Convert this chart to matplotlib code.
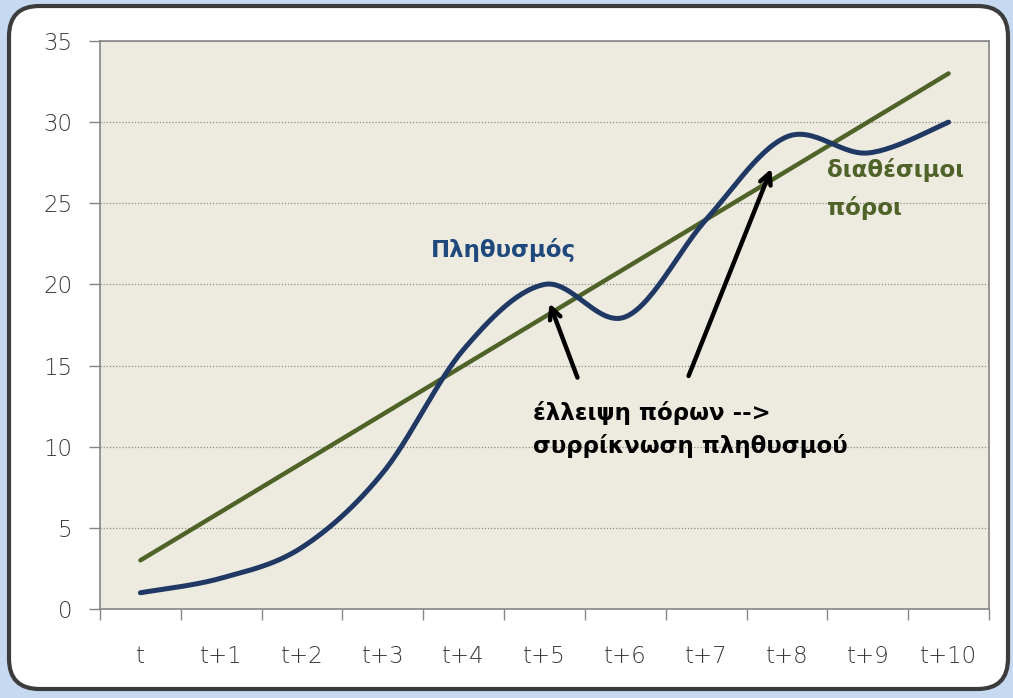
import numpy as np
import matplotlib
matplotlib.use('Agg')
import matplotlib.pyplot as plt
from matplotlib.patches import FancyBboxPatch

#-------------------------------------------------------------------------
# data
labels = ['t', 't+1', 't+2', 't+3', 't+4', 't+5', 't+6', 't+7', 't+8', 't+9', 't+10']
population = [1.0, 1.9, 3.8, 8.4, 16.0, 20.0, 18.0, 24.0, 29.1, 28.1, 30.0]
resources = [3, 6, 9, 12, 15, 18, 21, 24, 27, 30, 33]
#-------------------------------------------------------------------------

plt.rcParams['font.family'] = ['DejaVu Sans']


def excel_smooth(x, y, n=30):
    # bezier smoothing like the spreadsheet "smoothed line" option
    x = np.asarray(x, float)
    y = np.asarray(y, float)
    px = np.concatenate([[x[0]], x, [x[-1]]])
    py = np.concatenate([[y[0]], y, [y[-1]]])
    xs, ys = [], []
    t = np.linspace(0, 1, n)
    for i in range(len(x) - 1):
        p0 = np.array([px[i + 1], py[i + 1]])
        p3 = np.array([px[i + 2], py[i + 2]])
        c1 = p0 + (np.array([px[i + 2], py[i + 2]]) - np.array([px[i], py[i]])) / 6
        c2 = p3 - (np.array([px[i + 3], py[i + 3]]) - np.array([px[i + 1], py[i + 1]])) / 6
        b = ((1 - t) ** 3)[:, None] * p0 + (3 * (1 - t) ** 2 * t)[:, None] * c1 \
            + (3 * (1 - t) * t ** 2)[:, None] * c2 + (t ** 3)[:, None] * p3
        xs.extend(b[:, 0])
        ys.extend(b[:, 1])
    return np.array(xs), np.array(ys)


fig = plt.figure(figsize=(10.13, 6.98), dpi=100)
fig.patch.set_facecolor('#C6D9F1')

box = FancyBboxPatch((9 / 1013, 9 / 698), 999 / 1013, 683 / 698,
                     boxstyle='round,pad=0,rounding_size=0.03',
                     transform=fig.transFigure, facecolor='white',
                     edgecolor='#3c3c3c', linewidth=3, mutation_aspect=1013 / 698,
                     zorder=-10)
fig.patches.append(box)

ax = fig.add_axes([100 / 1013, 89 / 698, 889 / 1013, 568 / 698])
ax.set_zorder(5)
ax.set_facecolor('#EDEBE0')

xi = np.arange(len(labels))
ax.plot(xi, resources, color='#4F6228', lw=3.2, solid_capstyle='round', zorder=3)
sx, sy = excel_smooth(xi, population)
ax.plot(sx, sy, color='#1F3864', lw=3.6, solid_capstyle='round', zorder=4)

ax.set_xlim(-0.5, len(labels) - 0.5)
ax.set_ylim(0, 35)
ax.set_yticks(np.arange(0, 36, 5))
ax.yaxis.grid(True, linestyle=(0, (1, 1.5)), color='#8c8c8c', lw=0.9)
ax.set_axisbelow(True)

ax.set_xticks(np.arange(-0.5, len(labels), 1))
ax.set_xticklabels([])
ax.set_xticks(xi, minor=True)
ax.set_xticklabels(labels, minor=True)
ax.tick_params(axis='x', which='major', length=8, color='#868686', width=1)
ax.tick_params(axis='x', which='minor', length=0, pad=26, labelsize=16.5, labelcolor='#3a3a3a')
ax.tick_params(axis='y', length=8, color='#868686', width=1, pad=12, labelsize=16.5, labelcolor='#3a3a3a')
for lab in ax.get_xticklabels(minor=True) + ax.get_yticklabels():
    lab.set_fontweight('light')
for s in ax.spines.values():
    s.set_color('#868686')
    s.set_linewidth(1.2)

# text labels
ax.text(3.59, 22.1, 'Πληθυσμός', color='#1F497D', fontsize=16.5, fontweight='bold', va='center')
ax.text(8.49, 25.9, 'διαθέσιμοι\nπόροι', color='#4F6228', fontsize=16.5, fontweight='bold',
        va='center', linespacing=1.75)
ax.text(4.86, 11.05, 'έλλειψη πόρων -->\nσυρρίκνωση πληθυσμού', color='black', fontsize=16.5,
        fontweight='bold', va='center', linespacing=1.45)

arrow = dict(arrowstyle='->,head_length=0.8,head_width=0.4', color='black', lw=3.2)
ax.annotate('', xy=(5.05, 19.0), xytext=(5.42, 14.1), arrowprops=arrow, zorder=5)
ax.annotate('', xy=(7.82, 27.3), xytext=(6.77, 14.2), arrowprops=arrow, zorder=5)

fig.savefig('out.png', dpi=100, facecolor=fig.get_facecolor())
